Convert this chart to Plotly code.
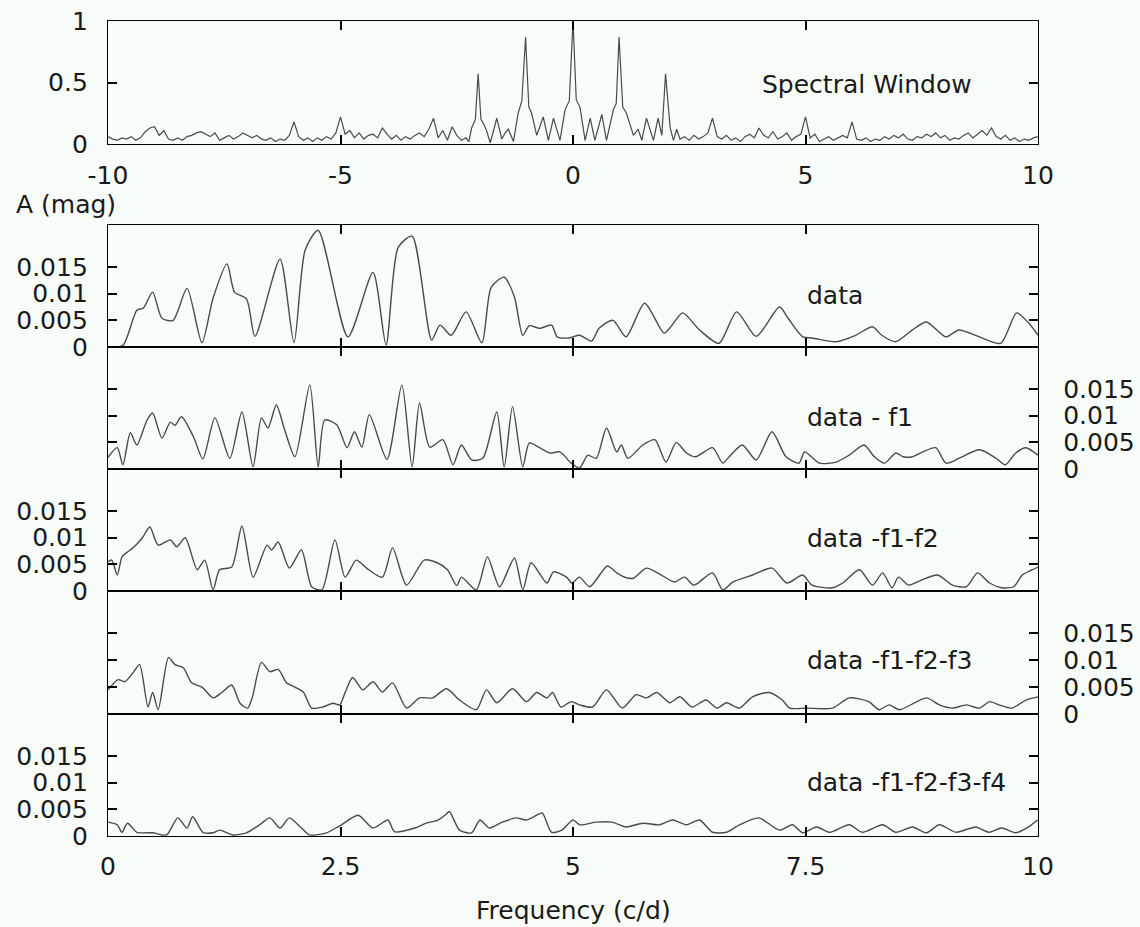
import plotly.graph_objects as go

# ---------------- data ----------------
SW_FREQ = [-10.0, -9.9, -9.8, -9.7, -9.6, -9.5, -9.4, -9.3, -9.2, -9.1, -9.0, -8.9, -8.8, -8.7, -8.6, -8.5, -8.4, -8.3, -8.2, -8.1,
           -8.0, -7.9, -7.8, -7.7, -7.6, -7.5, -7.4, -7.3, -7.2, -7.1, -7.0, -6.9, -6.8, -6.7, -6.6, -6.5, -6.4, -6.3, -6.2, -6.1,
           -6.0, -5.9, -5.8, -5.7, -5.6, -5.5, -5.4, -5.3, -5.2, -5.1, -5.0, -4.9, -4.8, -4.7, -4.6, -4.5, -4.4, -4.3, -4.2, -4.1,
           -4.0, -3.9, -3.8, -3.7, -3.6, -3.5, -3.4, -3.3, -3.2, -3.1, -3.0, -2.9, -2.8, -2.7, -2.6, -2.5, -2.4, -2.3,
           -2.24, -2.18, -2.10, -2.04, -1.98, -1.93, -1.86, -1.78, -1.70, -1.64, -1.53, -1.46, -1.39, -1.28, -1.18, -1.10, -1.02,
           -0.95, -0.89, -0.78, -0.64, -0.53, -0.42, -0.28, -0.17, -0.08, 0.0, 0.07, 0.15, 0.26, 0.37, 0.47, 0.62, 0.72, 0.87,
           0.93, 0.99, 1.07, 1.15, 1.30, 1.40, 1.48, 1.58, 1.73, 1.83, 1.91, 1.99, 2.09, 2.16, 2.23,
           2.3, 2.4, 2.5, 2.6, 2.7, 2.8, 2.9, 3.0, 3.1, 3.2, 3.3, 3.4, 3.5, 3.6, 3.7, 3.8, 3.9, 4.0, 4.1, 4.2, 4.3, 4.4, 4.5,
           4.6, 4.7, 4.8, 4.9, 5.0, 5.1, 5.2, 5.3, 5.4, 5.5, 5.6, 5.7, 5.8, 5.9, 6.0, 6.1, 6.2, 6.3, 6.4, 6.5, 6.6, 6.7, 6.8,
           6.9, 7.0, 7.1, 7.2, 7.3, 7.4, 7.5, 7.6, 7.7, 7.8, 7.9, 8.0, 8.1, 8.2, 8.3, 8.4, 8.5, 8.6, 8.7, 8.8, 8.9, 9.0, 9.1,
           9.2, 9.3, 9.4, 9.5, 9.6, 9.7, 9.8, 9.9, 10.0]
SW_AMP = [0.06, 0.04, 0.03, 0.05, 0.04, 0.06, 0.03, 0.05, 0.10, 0.13, 0.14, 0.07, 0.11, 0.04, 0.03, 0.05, 0.03, 0.06, 0.07, 0.09,
          0.10, 0.08, 0.06, 0.09, 0.03, 0.05, 0.07, 0.04, 0.06, 0.09, 0.07, 0.05, 0.07, 0.04, 0.03, 0.05, 0.02, 0.04, 0.03, 0.07,
          0.18, 0.06, 0.03, 0.05, 0.02, 0.05, 0.03, 0.06, 0.04, 0.09, 0.22, 0.08, 0.11, 0.05, 0.09, 0.04, 0.07, 0.08, 0.05, 0.13,
          0.08, 0.04, 0.07, 0.03, 0.06, 0.04, 0.07, 0.09, 0.06, 0.12, 0.21, 0.05, 0.11, 0.03, 0.14, 0.07, 0.03, 0.05,
          0.02, 0.13, 0.20, 0.57, 0.20, 0.17, 0.11, 0.01, 0.12, 0.21, 0.04, 0.09, 0.12, 0.02, 0.25, 0.35, 0.87,
          0.30, 0.25, 0.07, 0.22, 0.03, 0.21, 0.03, 0.28, 0.35, 1.0, 0.36, 0.30, 0.03, 0.21, 0.03, 0.24, 0.03, 0.28,
          0.33, 0.87, 0.30, 0.25, 0.07, 0.12, 0.03, 0.21, 0.03, 0.21, 0.07, 0.57, 0.13, 0.03, 0.12,
          0.04, 0.06, 0.03, 0.07, 0.04, 0.06, 0.09, 0.21, 0.06, 0.04, 0.07, 0.03, 0.05, 0.02, 0.06, 0.08, 0.05, 0.13, 0.07, 0.05,
          0.10, 0.04, 0.06, 0.09, 0.03, 0.06, 0.08, 0.22, 0.05, 0.08, 0.02, 0.04, 0.06, 0.03, 0.05, 0.07, 0.05, 0.18, 0.04, 0.03,
          0.05, 0.02, 0.04, 0.03, 0.06, 0.04, 0.07, 0.05, 0.08, 0.04, 0.03, 0.06, 0.05, 0.08, 0.06, 0.09, 0.05, 0.07, 0.03, 0.05,
          0.04, 0.07, 0.09, 0.05, 0.08, 0.11, 0.07, 0.13, 0.06, 0.04, 0.07, 0.03, 0.05, 0.02, 0.04, 0.03, 0.05, 0.06]

F_DATA = [0.0, 0.16, 0.31, 0.38, 0.48, 0.58, 0.70, 0.85, 1.01, 1.13, 1.28, 1.36, 1.49, 1.58, 1.85, 2.00, 2.12, 2.26,
          2.58, 2.85, 2.99, 3.12, 3.27, 3.48, 3.57, 3.69, 3.85, 4.02, 4.12, 4.26, 4.37, 4.46, 4.53, 4.64, 4.77, 4.83,
          4.96, 5.07, 5.20, 5.28, 5.43, 5.57, 5.77, 5.98, 6.06, 6.18, 6.36, 6.57, 6.76, 6.97, 7.22, 7.32, 7.47, 7.57, 7.83,
          8.04, 8.22, 8.32, 8.47, 8.65, 8.80, 9.01, 9.15, 9.37, 9.60, 9.77, 9.90, 10.0]
A_DATA = [0.0, 0.0003, 0.0069, 0.0073, 0.0103, 0.0054, 0.0050, 0.0110, 0.0008, 0.0092, 0.0156, 0.0103, 0.0090, 0.0020,
          0.0165, 0.0008, 0.0182, 0.0219, 0.0019, 0.0140, 0.0004, 0.0187, 0.0208, 0.0013, 0.0041, 0.0022,
          0.0066, 0.0008, 0.0112, 0.0131, 0.0094, 0.0022, 0.0040, 0.0035, 0.0041, 0.0019, 0.0017, 0.0022, 0.0011, 0.0035,
          0.0050, 0.0019, 0.0082, 0.0026, 0.0040, 0.0064, 0.0032, 0.0007, 0.0066, 0.0020, 0.0075, 0.0052, 0.0019, 0.0017,
          0.0010, 0.0022, 0.0038, 0.0022, 0.0010, 0.0032, 0.0047, 0.0019, 0.0032, 0.0019, 0.0007, 0.0064, 0.0045, 0.0022]

F_F1 = [0.00, 0.10, 0.16, 0.24, 0.31, 0.42, 0.48, 0.58, 0.67, 0.72, 0.79, 0.92, 1.02, 1.15, 1.31, 1.44, 1.56, 1.65, 1.72,
        1.81, 1.90, 2.01, 2.17, 2.26, 2.33, 2.46, 2.57, 2.65, 2.73, 2.81, 3.00, 3.16, 3.27, 3.35, 3.46, 3.60, 3.71, 3.80,
        3.91, 4.03, 4.18, 4.26, 4.35, 4.46, 4.53, 4.64, 4.75, 4.86, 4.98, 5.07, 5.16, 5.25, 5.36, 5.47, 5.52, 5.59, 5.75,
        5.88, 6.00, 6.11, 6.22, 6.32, 6.50, 6.61, 6.68, 6.82, 6.97, 7.14, 7.29, 7.43, 7.49, 7.65, 7.83, 7.97, 8.13, 8.24,
        8.35, 8.47, 8.55, 8.65, 8.76, 8.90, 9.01, 9.15, 9.37, 9.55, 9.65, 9.76, 9.87, 10.0]
A_F1 = [0.0022, 0.0040, 0.0008, 0.0068, 0.0045, 0.0092, 0.0105, 0.0058, 0.0088, 0.0082, 0.0098, 0.0060, 0.0019, 0.0096,
        0.0020, 0.0107, 0.0004, 0.0096, 0.0077, 0.0120, 0.0073, 0.0023, 0.0158, 0.0004, 0.0092, 0.0083, 0.0040, 0.0070,
        0.0041, 0.0102, 0.0018, 0.0158, 0.0004, 0.0124, 0.0041, 0.0055, 0.0008, 0.0045, 0.0017, 0.0020, 0.0107, 0.0004,
        0.0117, 0.0004, 0.0049, 0.0040, 0.0030, 0.0032, 0.0011, 0.0002, 0.0026, 0.0020, 0.0077, 0.0032, 0.0045, 0.0020,
        0.0045, 0.0055, 0.0013, 0.0050, 0.0030, 0.0023, 0.0040, 0.0011, 0.0023, 0.0045, 0.0017, 0.0070, 0.0023, 0.0011,
        0.0032, 0.0011, 0.0013, 0.0026, 0.0045, 0.0023, 0.0011, 0.0030, 0.0023, 0.0023, 0.0032, 0.0040, 0.0011, 0.0020,
        0.0036, 0.0020, 0.0008, 0.0030, 0.0040, 0.0026]

F_F12 = [0.00, 0.04, 0.10, 0.15, 0.20, 0.27, 0.37, 0.45, 0.54, 0.67, 0.74, 0.83, 0.96, 1.04, 1.13, 1.20, 1.33, 1.44, 1.56,
         1.71, 1.76, 1.83, 1.95, 2.08, 2.19, 2.30, 2.44, 2.55, 2.67, 2.78, 2.95, 3.06, 3.21, 3.40, 3.54, 3.65, 3.75, 3.80,
         3.96, 4.08, 4.21, 4.37, 4.46, 4.55, 4.72, 4.79, 4.93, 4.99, 5.07, 5.18, 5.37, 5.47, 5.57, 5.65, 5.79, 5.95, 6.09,
         6.20, 6.30, 6.50, 6.61, 6.72, 6.93, 7.14, 7.30, 7.47, 7.57, 7.79, 7.90, 8.08, 8.22, 8.33, 8.43, 8.50, 8.61, 8.74,
         8.92, 9.08, 9.23, 9.35, 9.48, 9.61, 9.74, 9.83, 9.94, 10.0]
A_F12 = [0.0055, 0.0058, 0.0030, 0.0064, 0.0072, 0.0081, 0.0100, 0.0120, 0.0086, 0.0096, 0.0083, 0.0100, 0.0040, 0.0058,
         0.0002, 0.0040, 0.0045, 0.0122, 0.0026, 0.0086, 0.0077, 0.0092, 0.0043, 0.0077, 0.0008, 0.0002, 0.0096, 0.0026,
         0.0058, 0.0043, 0.0026, 0.0081, 0.0011, 0.0058, 0.0053, 0.0040, 0.0010, 0.0026, 0.0002, 0.0064, 0.0008, 0.0062,
         0.0002, 0.0053, 0.0015, 0.0036, 0.0026, 0.0015, 0.0026, 0.0008, 0.0047, 0.0034, 0.0025, 0.0024, 0.0043, 0.0030,
         0.0017, 0.0026, 0.0011, 0.0034, 0.0002, 0.0017, 0.0030, 0.0043, 0.0015, 0.0030, 0.0011, 0.0006, 0.0015, 0.0040,
         0.0011, 0.0034, 0.0006, 0.0026, 0.0011, 0.0020, 0.0030, 0.0011, 0.0008, 0.0034, 0.0015, 0.0006, 0.0008, 0.0030,
         0.0040, 0.0045]

F_F123 = [0.00, 0.11, 0.18, 0.27, 0.34, 0.43, 0.48, 0.54, 0.65, 0.72, 0.81, 0.90, 1.01, 1.13, 1.23, 1.33, 1.42, 1.50, 1.55,
          1.65, 1.74, 1.83, 1.92, 2.01, 2.10, 2.19, 2.31, 2.42, 2.49, 2.55, 2.63, 2.74, 2.85, 2.95, 3.06, 3.21, 3.35, 3.49,
          3.64, 3.78, 3.96, 4.07, 4.18, 4.35, 4.50, 4.61, 4.72, 4.78, 4.87, 4.98, 5.07, 5.21, 5.36, 5.53, 5.68, 5.79, 5.90,
          6.04, 6.15, 6.28, 6.43, 6.55, 6.65, 6.79, 6.93, 7.11, 7.25, 7.33, 7.51, 7.79, 7.97, 8.18, 8.29, 8.40, 8.51, 8.80,
          8.94, 9.08, 9.23, 9.37, 9.48, 9.58, 9.72, 9.87, 10.0]
A_F123 = [0.0045, 0.0064, 0.0060, 0.0077, 0.0092, 0.0013, 0.0040, 0.0008, 0.0105, 0.0092, 0.0086, 0.0058, 0.0050, 0.0030,
          0.0041, 0.0054, 0.0020, 0.0011, 0.0030, 0.0096, 0.0079, 0.0083, 0.0058, 0.0050, 0.0041, 0.0011, 0.0013, 0.0020,
          0.0017, 0.0040, 0.0068, 0.0045, 0.0060, 0.0041, 0.0058, 0.0011, 0.0030, 0.0030, 0.0047, 0.0026, 0.0008, 0.0045,
          0.0021, 0.0047, 0.0023, 0.0040, 0.0030, 0.0040, 0.0013, 0.0023, 0.0017, 0.0013, 0.0045, 0.0011, 0.0036, 0.0030,
          0.0040, 0.0021, 0.0032, 0.0013, 0.0026, 0.0011, 0.0021, 0.0011, 0.0032, 0.0040, 0.0026, 0.0011, 0.0011, 0.0011,
          0.0030, 0.0023, 0.0008, 0.0017, 0.0008, 0.0030, 0.0017, 0.0011, 0.0017, 0.0011, 0.0023, 0.0017, 0.0011, 0.0026,
          0.0032]

F_F1234 = [0.00, 0.10, 0.15, 0.21, 0.31, 0.48, 0.63, 0.75, 0.85, 0.91, 1.02, 1.13, 1.20, 1.34, 1.49, 1.63, 1.74, 1.85,
           1.95, 2.08, 2.17, 2.35, 2.47, 2.51, 2.69, 2.85, 3.01, 3.08, 3.30, 3.42, 3.55, 3.63, 3.67, 3.78, 3.91, 4.00, 4.10,
           4.24, 4.39, 4.50, 4.61, 4.67, 4.77, 4.88, 5.00, 5.07, 5.25, 5.42, 5.57, 5.75, 5.93, 6.07, 6.22, 6.36, 6.50, 6.65,
           6.79, 7.00, 7.22, 7.36, 7.47, 7.62, 7.76, 7.97, 8.11, 8.33, 8.47, 8.65, 8.80, 8.94, 9.12, 9.33, 9.47, 9.61, 9.76,
           9.90, 9.98, 10.0]
A_F1234 = [0.0026, 0.0021, 0.0007, 0.0024, 0.0007, 0.0006, 0.0002, 0.0034, 0.0015, 0.0036, 0.0007, 0.0006, 0.0011, 0.0002,
           0.0006, 0.0021, 0.0034, 0.0015, 0.0034, 0.0015, 0.0002, 0.0006, 0.0017, 0.0021, 0.0039, 0.0015, 0.0030, 0.0008,
           0.0015, 0.0024, 0.0030, 0.0040, 0.0046, 0.0011, 0.0006, 0.0030, 0.0015, 0.0026, 0.0034, 0.0030, 0.0039, 0.0043,
           0.0007, 0.0011, 0.0030, 0.0021, 0.0026, 0.0026, 0.0017, 0.0024, 0.0021, 0.0030, 0.0021, 0.0030, 0.0007, 0.0007,
           0.0021, 0.0034, 0.0011, 0.0021, 0.0006, 0.0017, 0.0007, 0.0021, 0.0007, 0.0021, 0.0007, 0.0017, 0.0006, 0.0021,
           0.0007, 0.0017, 0.0007, 0.0015, 0.0006, 0.0017, 0.0028, 0.0030]

SERIES = [(F_DATA, A_DATA), (F_F1, A_F1), (F_F12, A_F12), (F_F123, A_F123), (F_F1234, A_F1234)]
LABELS = ["data", "data - f1", "data -f1-f2", "data -f1-f2-f3", "data -f1-f2-f3-f4"]
TOP_XTICKS = [-10, -5, 0, 5, 10]
TOP_XTEXT = ["-10", "-5", "0", "5", "10"]
TOP_YTICKS = [0, 0.5, 1]
TOP_YTEXT = ["0", "0.5", "1"]
BOT_XTICKS = [0, 2.5, 5, 7.5, 10]
BOT_XTEXT = ["0", "2.5", "5", "7.5", "10"]
BOT_YTICKS = [0, 0.005, 0.01, 0.015]
BOT_YTEXT = ["0", "0.005", "0.01", "0.015"]

# ---------------- layout helpers ----------------
W, H = 1140, 927
FONT = "DejaVu Sans"
FS = 25
TXT = "#1a1a1a"
LINE = "#4a4a4a"
BG = "#f8fcf8"

def fx(p):
    return p / W

def fy(p):
    return 1 - p / H

X0, X1 = 108, 1038
panel_edges = [225, 347, 469, 591, 714, 836]

fig = go.Figure()
fig.add_trace(go.Scatter(x=SW_FREQ, y=SW_AMP, mode="lines", xaxis="x", yaxis="y",
                         line=dict(color=LINE, width=1.2), showlegend=False, hoverinfo="skip"))
for i, (f, a) in enumerate(SERIES):
    n = i + 2
    fig.add_trace(go.Scatter(x=f, y=a, mode="lines", xaxis=f"x{n}", yaxis=f"y{n}",
                             line=dict(color=LINE, width=1.4, shape="spline", smoothing=0.7),
                             showlegend=False, hoverinfo="skip"))

common = dict(showline=True, linecolor="black", linewidth=1.3, mirror="ticks", ticks="inside",
              ticklen=9, tickwidth=1.5, tickcolor="black", showgrid=False, zeroline=False,
              automargin=False, tickfont=dict(family=FONT, size=FS, color=TXT))

lay = dict(width=W, height=H, margin=dict(l=0, r=0, t=0, b=0, pad=0, autoexpand=False),
           paper_bgcolor=BG, plot_bgcolor=BG, showlegend=False, template="none")
lay["xaxis"] = dict(common, domain=[fx(X0), fx(X1)], range=[-10, 10], tickvals=TOP_XTICKS,
                    ticktext=TOP_XTEXT, anchor="y", ticklabelstandoff=9)
lay["yaxis"] = dict(common, domain=[fy(144), fy(21)], range=[0, 1], tickvals=TOP_YTICKS,
                    ticktext=TOP_YTEXT, anchor="x", ticklabelstandoff=14)
for i in range(5):
    n = i + 2
    top, bot = panel_edges[i], panel_edges[i + 1]
    lay[f"xaxis{n}"] = dict(common, domain=[fx(X0), fx(X1)], range=[0, 10], tickvals=BOT_XTICKS,
                            ticktext=BOT_XTEXT, anchor=f"y{n}", showticklabels=(i == 4),
                            ticklabelstandoff=8)
    side = "right" if i in (1, 3) else "left"
    lay[f"yaxis{n}"] = dict(common, domain=[fy(bot), fy(top)], range=[0, 0.0229], tickvals=BOT_YTICKS,
                            ticktext=BOT_YTEXT, anchor=f"x{n}", side=side,
                            ticklabelstandoff=(19 if side == "right" else 14))
fig.update_layout(**lay)

ann = []
def add_text(t, xp, yp, xanchor="left"):
    ann.append(dict(text=t, x=fx(xp), y=fy(yp), xref="paper", yref="paper", xanchor=xanchor,
                    yanchor="middle", showarrow=False, font=dict(family=FONT, size=FS, color=TXT)))

add_text("Spectral Window", 760, 84)
label_y = [295, 417, 538, 660, 782]
for t, yy in zip(LABELS, label_y):
    add_text(t, 805, yy)
add_text("A (mag)", 14, 204)
add_text("Frequency (c/d)", 573, 910, xanchor="center")
fig.update_layout(annotations=ann)

fig.write_html("out.html")
